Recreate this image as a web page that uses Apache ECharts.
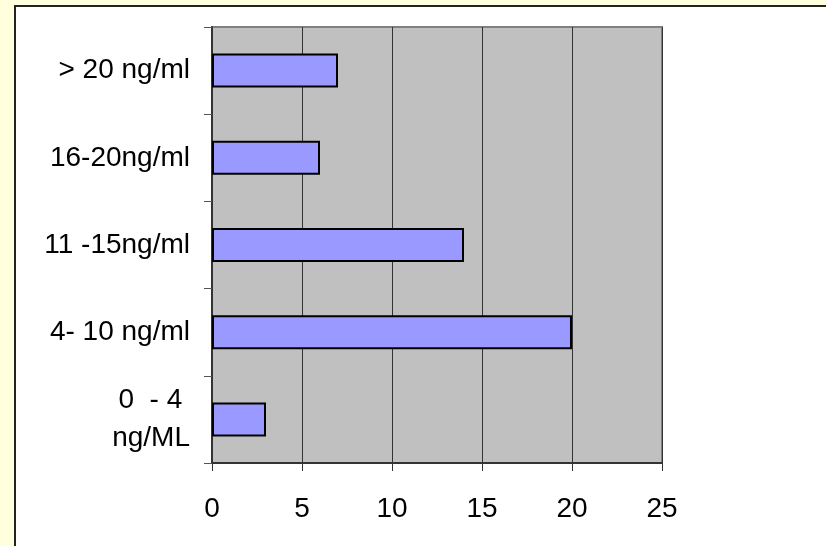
<!DOCTYPE html>
<html>
<head>
<meta charset="utf-8">
<script src="https://cdn.jsdelivr.net/npm/echarts@6/dist/echarts.min.js"></script>
<style>
html,body{margin:0;padding:0;background:#FFFFDD;}
#chart{width:826px;height:546px;}
</style>
</head>
<body>
<div id="chart"></div>
<script>
const categories = ['0  - 4 \nng/ML', '4- 10 ng/ml', '11 -15ng/ml', '16-20ng/ml', '> 20 ng/ml'];
const values = [3, 20, 14, 6, 7];
const xMin = 0, xMax = 25, xStep = 5;

const chart = echarts.init(document.getElementById('chart'), null, {renderer: 'canvas'});
chart.setOption({
  backgroundColor: '#FFFFDD',
  animation: false,
  graphic: [{
    type: 'rect',
    z: -10,
    shape: {x: 15, y: 6, width: 900, height: 700},
    style: {fill: '#FFFFFF', stroke: '#222222', lineWidth: 2}
  }],
  grid: {
    left: 212, top: 27, width: 450, height: 436,
    show: true, backgroundColor: '#C0C0C0', borderColor: '#808080', borderWidth: 2,
    containLabel: false
  },
  xAxis: {
    type: 'value', min: xMin, max: xMax, interval: xStep,
    axisLine: {show: true, lineStyle: {color: '#333333', width: 2}},
    axisTick: {show: true, length: 8, lineStyle: {color: '#333333', width: 1}},
    axisLabel: {fontFamily: 'Liberation Sans', fontSize: 28, color: '#000', margin: 32},
    splitLine: {show: true, lineStyle: {color: '#333333', width: 1}}
  },
  yAxis: {
    type: 'category', data: categories,
    axisLine: {show: true, lineStyle: {color: '#333333', width: 2}},
    axisTick: {show: true, length: 8, inside: false, lineStyle: {color: '#555555', width: 1}},
    axisLabel: {fontFamily: 'Liberation Sans', fontSize: 28, color: '#000', margin: 22, lineHeight: 38},
    splitLine: {show: false}
  },
  series: [{
    type: 'bar',
    data: values,
    barWidth: 34,
    itemStyle: {color: '#9999FF', borderColor: '#000000', borderWidth: 2}
  }]
});
</script>
</body>
</html>
